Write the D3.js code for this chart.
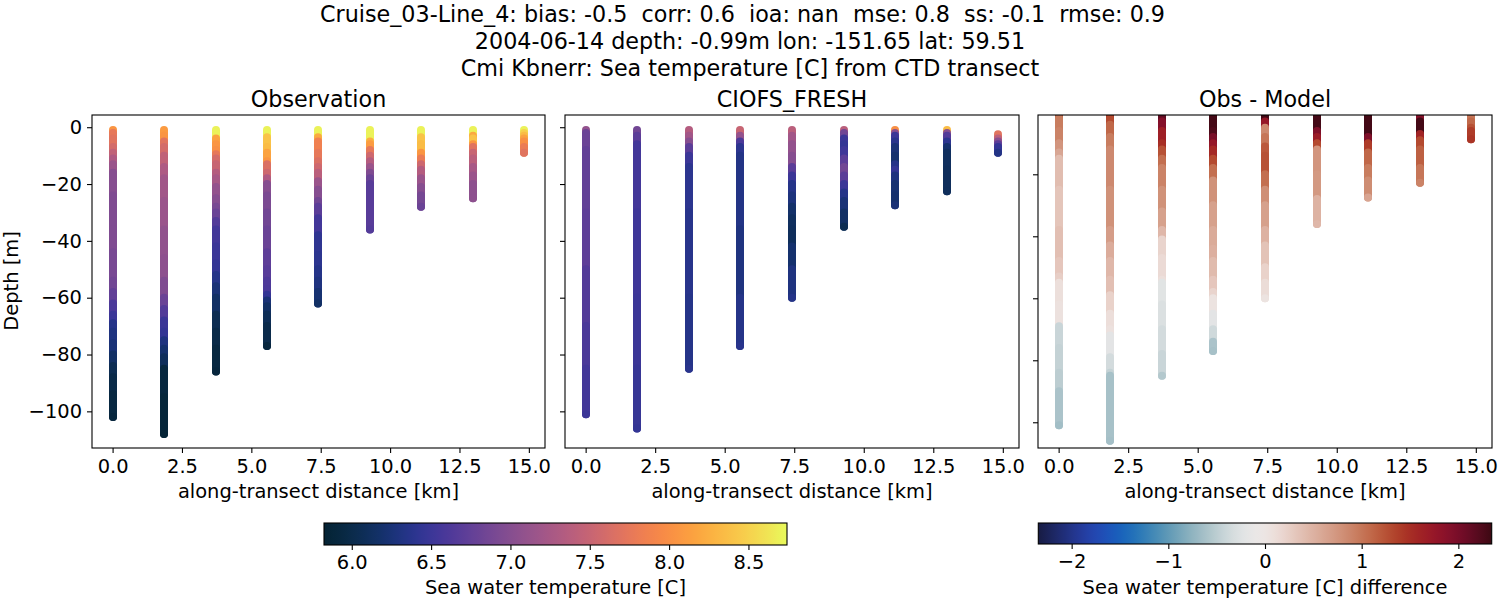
<!DOCTYPE html>
<html><head><meta charset="utf-8">
<script src="https://cdn.jsdelivr.net/npm/d3@7"></script>
<style>html,body{margin:0;padding:0;background:#fff}svg{display:block}text{font-family:"DejaVu Sans";fill:#000;white-space:pre}</style>
</head><body><svg id="c" width="1500" height="600"></svg>
<script>
const titleLines=["Cruise_03-Line_4: bias: -0.5  corr: 0.6  ioa: nan  mse: 0.8  ss: -0.1  rmse: 0.9","2004-06-14 depth: -0.99m lon: -151.65 lat: 59.51","Cmi Kbnerr: Sea temperature [C] from CTD transect"];
const panelTitles=["Observation","CIOFS_FRESH","Obs - Model"];
const stationKm=[0,1.855,3.71,5.565,7.42,9.275,11.13,12.985,14.84];
const xTicks=[0,2.5,5,7.5,10,12.5,15];
const yTicks=[0,-20,-40,-60,-80,-100];
const tempTicks=[6,6.5,7,7.5,8,8.5];
const diffTicks=[-2,-1,0,1,2];

const obsDepths=[
[1,2,4,7,9,11,13,16,24,36,44,54,58,62,66,69,72,76,80,84,88,94,102],
[1,3,5,7,10,14,18,26,36,46,54,60,64,68,72,75,78,81,85,95,108],
[1,3,4,6,8,9.5,11,13,16,18,21,25,28,30,33,36,42,48,52,56,60,66,72,78,86],
[1,3.5,7,9,12,13,16,18,20,24,30,36,44,50,54,57,59,61,63,66,70,77],
[1,3.5,5,9,12,14,16,19,22,26,28,32,38,45,50,54,58,62],
[1,5,6,8,10,12,14,16,18,20,36],
[1,3.5,6,9,11,13,15,18,21,24,28],
[1,3,4,6,7,9,11,14,17,20,25],
[1,2,3,4,5,7,9]];
const obsTemps=[
[8.05,7.75,7.7,7.6,7.45,7.3,7.15,7.0,6.95,6.95,6.9,6.85,6.75,6.6,6.5,6.35,6.3,6.25,6.15,6.05,5.98,5.93,5.9],
[8.1,8.05,7.7,7.6,7.45,7.3,7.2,7.15,7.08,7.05,6.95,6.8,6.65,6.5,6.45,6.3,6.2,6.1,5.92,5.88,5.85],
[8.7,8.7,8.15,8.05,8.0,7.75,7.6,7.5,7.35,7.25,7.1,7.0,6.9,6.8,6.65,6.55,6.5,6.45,6.35,6.25,6.15,6.05,5.98,5.93,5.9],
[8.7,8.4,8.35,8.15,8.05,7.65,7.55,7.3,7.0,6.92,6.85,6.8,6.72,6.68,6.62,6.6,6.45,6.25,6.15,6.08,6.0,5.9],
[8.7,8.2,7.85,7.75,7.65,7.55,7.4,7.15,7.0,6.85,6.7,6.55,6.42,6.4,6.35,6.3,6.22,6.15],
[8.7,8.25,8.1,7.75,7.55,7.35,7.15,6.95,6.8,6.68,6.65],
[8.7,8.4,8.35,8.05,7.8,7.55,7.35,7.15,7.0,6.88,6.8],
[8.7,8.2,8.4,8.05,7.7,7.5,7.4,7.25,7.15,7.05,7.05],
[8.7,8.5,8.35,8.15,8.0,7.8,7.7]];

const modelDepths=[
[1,2,8,30,50,70,85,101],
[1,3,6,30,60,85,106],
[1,3,5,7,10,14,30,60,85],
[1,3,5,7,10,36,60,77],
[1,3,6,10,14,17,20,24,28,32,36,42,50,60],
[1,2,4,6,8,11,14,17,20,23,26,30,35],
[1,2,3,5,7,10,13,15,17,20,24,27.5],
[1,2,3,5,7,9,15,22.5],
[2.5,4,5,6,7,9]];
const modelTemps=[
[7.1,6.8,6.75,6.72,6.65,6.6,6.55,6.5],
[6.85,6.7,6.55,6.52,6.5,6.47,6.45],
[7.35,7.2,7.0,6.7,6.5,6.4,6.37,6.35,6.38],
[7.5,7.1,6.6,6.4,6.33,6.3,6.35,6.38],
[7.4,7.2,7.1,7.0,6.7,6.5,6.35,6.28,6.18,6.12,6.1,6.2,6.3,6.35],
[7.4,6.85,6.5,6.45,6.52,6.7,6.85,6.7,6.5,6.35,6.25,6.15,6.05],
[8.0,7.0,6.5,6.38,6.25,6.2,6.35,6.45,6.3,6.22,6.2,6.25],
[8.35,7.0,6.65,6.4,6.2,6.12,6.1,6.1],
[7.7,7.4,7.0,6.7,6.45,6.33]];

const diffDepths=[
[1,2,6,10,13,15,25,38,48,53,55,62,69,76,84,90,101],
[1,2,4,8,12,25,38,43,48,54,59,65,70,72,79,84,85,106],
[1,3,6,10,12,15,18,25,32,38,41,47,54,55,62,70,78,85],
[1,6,8,10,12,15,18,22,30,38,44,48,54,58,60,65,70,74,77],
[1,3,5,8,11,14,20,25,30,38,43,50,55,60],
[1,6,8,10,12,20,28,36],
[1,8,10,13,18,22,27.5],
[1,3,7,9,12,18,22.7],
[1,3,5,6,8.7]];
const diffVals=[
[1.15,0.95,0.9,0.75,0.6,0.4,0.33,0.38,0.32,0.25,0.09,0.06,-0.42,-0.45,-0.5,-0.6,-0.65],
[1.45,1.3,1.1,0.95,0.85,0.78,0.68,0.55,0.45,0.38,0.22,0.1,0.06,-0.2,-0.35,-0.45,-0.62,-0.64],
[2.15,1.9,1.65,1.5,1.25,1.05,0.9,0.78,0.65,0.45,0.2,0.14,0.09,-0.22,-0.28,-0.35,-0.42,-0.55],
[2.3,2.25,2.0,1.75,1.55,1.3,1.05,0.78,0.65,0.56,0.52,0.42,0.32,0.2,0.03,-0.2,-0.38,-0.6,-0.62],
[2.3,1.75,0.85,1.0,1.2,1.25,1.05,0.8,0.65,0.5,0.35,0.22,0.12,0.03],
[2.3,1.95,1.7,1.3,0.75,0.72,0.5,0.45],
[2.3,1.95,1.4,1.1,0.95,0.82,0.62],
[1.9,2.3,1.6,1.3,1.15,1.0,0.9],
[1.0,1.1,1.25,1.4,1.45]];

const thermalStops=["#042333","#0b2c4c","#14326f","#2c3595","#4c379b","#6a4396","#854e90","#9f568a","#b85d7e","#d06a6d","#ea7957","#f98a45","#fca33e","#fbbd45","#f5d750","#e8fa5b"];
const balanceStops=["#181c43","#21307f","#2845b8","#0f65bd","#3e87b4","#78a7b8","#aec4c9","#dfe3e4","#f1eceb","#e6c9bf","#d9a896","#cc876b","#bd5e3c","#a9301f","#98132a","#730c2b","#3c0912"];

const svg=d3.select("#c");
const tickFont=19.44,titleFont=22.25;
const thermalColor=d3.scaleSequential(d3.interpolateRgbBasis(thermalStops)).domain([5.825,8.743]);
const balanceColor=d3.scaleSequential(d3.interpolateRgbBasis(balanceStops)).domain([-2.345,2.345]);

svg.selectAll("text.title").data(titleLines).join("text").attr("class","title")
 .attr("x",(d,i)=>[742.5,750,750][i]).attr("y",(d,i)=>[22,49,75.5][i]).attr("text-anchor","middle").attr("font-size",titleFont).text(d=>d);

const panels=[
 {left:92,right:545,dom:[-112.9,4.3],depths:obsDepths,vals:obsTemps,color:thermalColor,labels:true,ticks:yTicks},
 {left:565,right:1019,dom:[-112.9,4.3],depths:modelDepths,vals:modelTemps,color:thermalColor,labels:false,ticks:yTicks},
 {left:1038,right:1492,dom:[-108.3,-0.87],depths:diffDepths,vals:diffVals,color:balanceColor,labels:false,ticks:yTicks.slice(1)}];
const axTop=115,axBottom=448;
panels.forEach((p,i)=>{
 const x=d3.scaleLinear().domain([-0.742,15.582]).range([p.left,p.right]);
 const y=d3.scaleLinear().domain(p.dom).range([axBottom,axTop]);
 const g=svg.append("g");
 g.append("clipPath").attr("id","clip"+i).append("rect").attr("x",p.left).attr("y",axTop).attr("width",p.right-p.left).attr("height",axBottom-axTop);
 const marks=g.append("g").attr("clip-path",`url(#clip${i})`);
 stationKm.forEach((km,s)=>{
  const rows=p.depths[s].map((d,k)=>({d,v:p.vals[s][k],next:k+1<p.depths[s].length?p.depths[s][k+1]:d}));
  const cx=Math.round(x(km));
  marks.append("g").selectAll("line").data(rows).join("line")
   .attr("x1",cx).attr("x2",cx).attr("y1",r=>y(-r.d)).attr("y2",r=>y(-r.next))
   .attr("stroke",r=>p.color(r.v)).attr("stroke-width",8).attr("stroke-linecap","round");
 });
 const ax=g.append("g").attr("transform",`translate(0,${axBottom})`)
  .call(d3.axisBottom(x).tickValues(xTicks).tickFormat(d3.format(".1f")).tickSize(5).tickPadding(6));
 const ay=g.append("g").attr("transform",`translate(${p.left},0)`)
  .call(d3.axisLeft(y).tickValues(p.ticks).tickFormat(p.labels?d3.format("d"):"").tickSize(5).tickPadding(5));
 [ax,ay].forEach(a=>{a.select(".domain").remove();a.selectAll("line").attr("stroke","#000").attr("stroke-width",1.1);
  a.selectAll("text").attr("font-size",tickFont).attr("font-family","DejaVu Sans").attr("fill","#000");});
 g.append("rect").attr("x",p.left).attr("y",axTop).attr("width",p.right-p.left).attr("height",axBottom-axTop)
  .attr("fill","none").attr("stroke","#000").attr("stroke-width",1.1);
 g.append("text").attr("x",(p.left+p.right)/2).attr("y",107).attr("text-anchor","middle").attr("font-size",titleFont).text(panelTitles[i]);
 g.append("text").attr("x",(p.left+p.right)/2).attr("y",498).attr("text-anchor","middle").attr("font-size",tickFont).text("along-transect distance [km]");
});
svg.append("text").attr("transform","translate(18,281) rotate(-90)").attr("text-anchor","middle").attr("font-size",tickFont).text("Depth [m]");

function colorbar(id,left,right,yTop,yBot,color,ticks,fmt,label){
 const [a,b]=color.domain();
 const x=d3.scaleLinear().domain([a,b]).range([left,right]);
 const grad=svg.append("linearGradient").attr("id",id);
 grad.selectAll("stop").data(d3.range(0,1.0001,0.01)).join("stop")
  .attr("offset",t=>t).attr("stop-color",t=>color(a+(b-a)*t));
 svg.append("rect").attr("x",left).attr("y",yTop).attr("width",right-left).attr("height",yBot-yTop)
  .attr("fill",`url(#${id})`).attr("stroke","#000").attr("stroke-width",1.1);
 const ax=svg.append("g").attr("transform",`translate(0,${yBot})`)
  .call(d3.axisBottom(x).tickValues(ticks).tickFormat(d3.format(fmt)).tickSize(5).tickPadding(5));
 ax.select(".domain").remove();
 ax.selectAll("line").attr("stroke","#000").attr("stroke-width",1.1);
 ax.selectAll("text").attr("font-size",tickFont).attr("font-family","DejaVu Sans").attr("fill","#000");
 svg.append("text").attr("x",(left+right)/2).attr("y",594).attr("text-anchor","middle").attr("font-size",tickFont).text(label);
}
colorbar("gT",324,787,523,545,thermalColor,tempTicks,".1f","Sea water temperature [C]");
colorbar("gB",1038.3,1491.7,523,544,balanceColor,diffTicks,"d","Sea water temperature [C] difference");
</script></body></html>
